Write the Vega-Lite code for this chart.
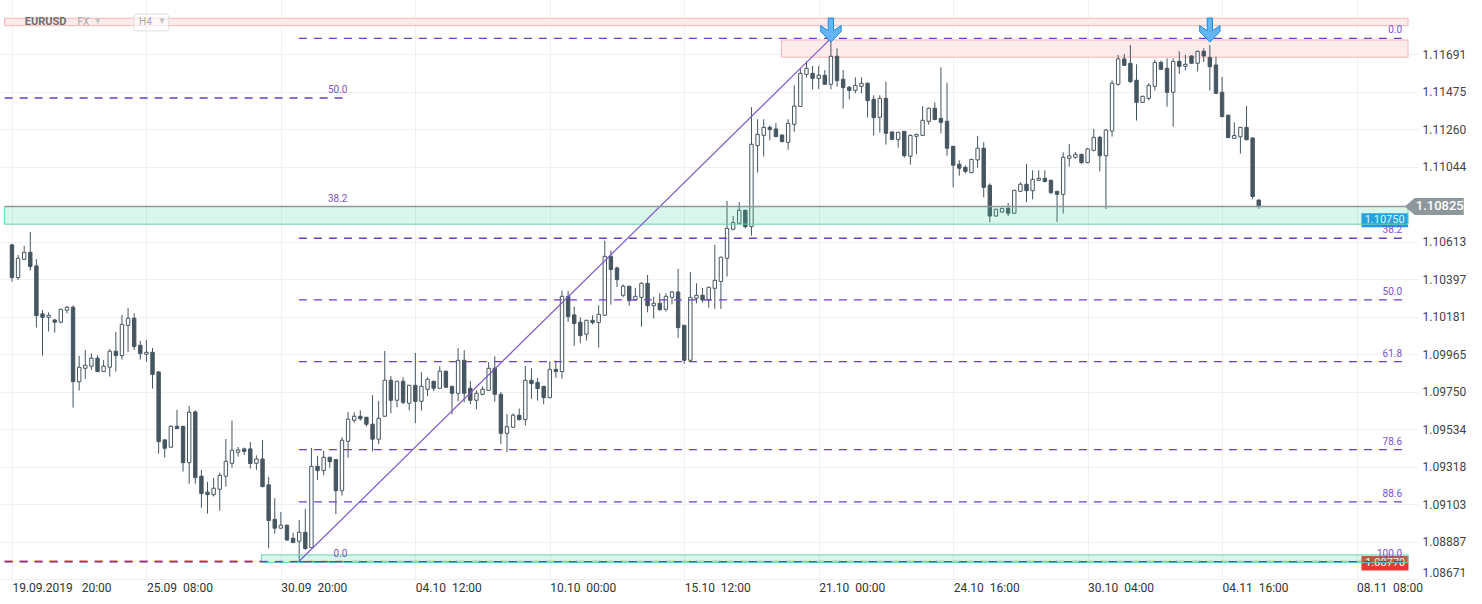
{
  "$schema": "https://vega.github.io/schema/vega-lite/v6.json",
  "width": 1418,
  "height": 581,
  "autosize": {"type": "none"},
  "padding": {"left": 0, "top": 0, "right": 64, "bottom": 23},
  "background": "#ffffff",
  "config": {"view": {"stroke": null}, "font": "Roboto"},
  "datasets": {
    "candles": [
      {"i":0,"o":1.10594,"h":1.10600,"l":1.10383,"c":1.10406},
      {"i":1,"o":1.10406,"h":1.10536,"l":1.10392,"c":1.10517},
      {"i":2,"o":1.10511,"h":1.10588,"l":1.10508,"c":1.10551},
      {"i":3,"o":1.10551,"h":1.10668,"l":1.10446,"c":1.10469},
      {"i":4,"o":1.10473,"h":1.10511,"l":1.10118,"c":1.10187},
      {"i":5,"o":1.10197,"h":1.10220,"l":1.09957,"c":1.10177},
      {"i":6,"o":1.10177,"h":1.10206,"l":1.10095,"c":1.10189},
      {"i":7,"o":1.10162,"h":1.10168,"l":1.10089,"c":1.10149},
      {"i":8,"o":1.10149,"h":1.10227,"l":1.10143,"c":1.10223},
      {"i":9,"o":1.10218,"h":1.10243,"l":1.10200,"c":1.10235},
      {"i":10,"o":1.10235,"h":1.10246,"l":1.09658,"c":1.09807},
      {"i":11,"o":1.09807,"h":1.09955,"l":1.09756,"c":1.09890},
      {"i":12,"o":1.09884,"h":1.09989,"l":1.09823,"c":1.09901},
      {"i":13,"o":1.09896,"h":1.09970,"l":1.09874,"c":1.09942},
      {"i":14,"o":1.09942,"h":1.09959,"l":1.09862,"c":1.09865},
      {"i":15,"o":1.09865,"h":1.09932,"l":1.09862,"c":1.09896},
      {"i":16,"o":1.09890,"h":1.09995,"l":1.09836,"c":1.09982},
      {"i":17,"o":1.09982,"h":1.10093,"l":1.09865,"c":1.09957},
      {"i":18,"o":1.09957,"h":1.10191,"l":1.09934,"c":1.10137},
      {"i":19,"o":1.10131,"h":1.10231,"l":1.09978,"c":1.10172},
      {"i":20,"o":1.10172,"h":1.10200,"l":1.09989,"c":1.10009},
      {"i":21,"o":1.10016,"h":1.10041,"l":1.09934,"c":1.09968},
      {"i":22,"o":1.09965,"h":1.10047,"l":1.09922,"c":1.09976},
      {"i":23,"o":1.09976,"h":1.10001,"l":1.09767,"c":1.09849},
      {"i":24,"o":1.09863,"h":1.09867,"l":1.09393,"c":1.09462},
      {"i":25,"o":1.09472,"h":1.09475,"l":1.09370,"c":1.09424},
      {"i":26,"o":1.09430,"h":1.09556,"l":1.09427,"c":1.09550},
      {"i":27,"o":1.09550,"h":1.09644,"l":1.09535,"c":1.09537},
      {"i":28,"o":1.09550,"h":1.09553,"l":1.09290,"c":1.09341},
      {"i":29,"o":1.09341,"h":1.09667,"l":1.09220,"c":1.09631},
      {"i":30,"o":1.09633,"h":1.09641,"l":1.09220,"c":1.09255},
      {"i":31,"o":1.09263,"h":1.09299,"l":1.09082,"c":1.09163},
      {"i":32,"o":1.09171,"h":1.09230,"l":1.09048,"c":1.09157},
      {"i":33,"o":1.09157,"h":1.09253,"l":1.09146,"c":1.09194},
      {"i":34,"o":1.09188,"h":1.09284,"l":1.09065,"c":1.09268},
      {"i":35,"o":1.09263,"h":1.09477,"l":1.09203,"c":1.09349},
      {"i":36,"o":1.09337,"h":1.09583,"l":1.09312,"c":1.09412},
      {"i":37,"o":1.09401,"h":1.09431,"l":1.09376,"c":1.09414},
      {"i":38,"o":1.09420,"h":1.09428,"l":1.09385,"c":1.09406},
      {"i":39,"o":1.09420,"h":1.09460,"l":1.09307,"c":1.09336},
      {"i":40,"o":1.09337,"h":1.09383,"l":1.09299,"c":1.09362},
      {"i":41,"o":1.09362,"h":1.09472,"l":1.09199,"c":1.09203},
      {"i":42,"o":1.09213,"h":1.09259,"l":1.08848,"c":1.09008},
      {"i":43,"o":1.09015,"h":1.09136,"l":1.08933,"c":1.08964},
      {"i":44,"o":1.08964,"h":1.09057,"l":1.08961,"c":1.08981},
      {"i":45,"o":1.08981,"h":1.08984,"l":1.08891,"c":1.08896},
      {"i":46,"o":1.08906,"h":1.08937,"l":1.08878,"c":1.08881},
      {"i":47,"o":1.08889,"h":1.09011,"l":1.08772,"c":1.08940},
      {"i":48,"o":1.08940,"h":1.09075,"l":1.08839,"c":1.08847},
      {"i":49,"o":1.08852,"h":1.09426,"l":1.08849,"c":1.09320},
      {"i":50,"o":1.09320,"h":1.09380,"l":1.09242,"c":1.09295},
      {"i":51,"o":1.09295,"h":1.09410,"l":1.09268,"c":1.09372},
      {"i":52,"o":1.09372,"h":1.09375,"l":1.09312,"c":1.09347},
      {"i":53,"o":1.09359,"h":1.09362,"l":1.09044,"c":1.09180},
      {"i":54,"o":1.09180,"h":1.09487,"l":1.09151,"c":1.09470},
      {"i":55,"o":1.09464,"h":1.09633,"l":1.09370,"c":1.09591},
      {"i":56,"o":1.09585,"h":1.09631,"l":1.09571,"c":1.09608},
      {"i":57,"o":1.09608,"h":1.09642,"l":1.09582,"c":1.09594},
      {"i":58,"o":1.09602,"h":1.09605,"l":1.09548,"c":1.09562},
      {"i":59,"o":1.09562,"h":1.09729,"l":1.09406,"c":1.09476},
      {"i":60,"o":1.09476,"h":1.09696,"l":1.09447,"c":1.09596},
      {"i":61,"o":1.09608,"h":1.09984,"l":1.09605,"c":1.09815},
      {"i":62,"o":1.09815,"h":1.09840,"l":1.09625,"c":1.09700},
      {"i":63,"o":1.09700,"h":1.09812,"l":1.09660,"c":1.09809},
      {"i":64,"o":1.09809,"h":1.09832,"l":1.09677,"c":1.09688},
      {"i":65,"o":1.09683,"h":1.09789,"l":1.09642,"c":1.09786},
      {"i":66,"o":1.09786,"h":1.09972,"l":1.09568,"c":1.09694},
      {"i":67,"o":1.09694,"h":1.09861,"l":1.09641,"c":1.09780},
      {"i":68,"o":1.09763,"h":1.09832,"l":1.09723,"c":1.09821},
      {"i":69,"o":1.09809,"h":1.09812,"l":1.09752,"c":1.09769},
      {"i":70,"o":1.09769,"h":1.09896,"l":1.09766,"c":1.09867},
      {"i":71,"o":1.09867,"h":1.09870,"l":1.09772,"c":1.09775},
      {"i":72,"o":1.09780,"h":1.09783,"l":1.09619,"c":1.09740},
      {"i":73,"o":1.09740,"h":1.10001,"l":1.09694,"c":1.09930},
      {"i":74,"o":1.09930,"h":1.09988,"l":1.09688,"c":1.09740},
      {"i":75,"o":1.09769,"h":1.09811,"l":1.09677,"c":1.09700},
      {"i":76,"o":1.09700,"h":1.09757,"l":1.09648,"c":1.09740},
      {"i":77,"o":1.09734,"h":1.09780,"l":1.09729,"c":1.09763},
      {"i":78,"o":1.09757,"h":1.09919,"l":1.09754,"c":1.09884},
      {"i":79,"o":1.09884,"h":1.09953,"l":1.09692,"c":1.09734},
      {"i":80,"o":1.09734,"h":1.09748,"l":1.09447,"c":1.09510},
      {"i":81,"o":1.09510,"h":1.09621,"l":1.09401,"c":1.09548},
      {"i":82,"o":1.09545,"h":1.09625,"l":1.09542,"c":1.09614},
      {"i":83,"o":1.09614,"h":1.09652,"l":1.09583,"c":1.09589},
      {"i":84,"o":1.09589,"h":1.09897,"l":1.09554,"c":1.09815},
      {"i":85,"o":1.09815,"h":1.09884,"l":1.09708,"c":1.09796},
      {"i":86,"o":1.09803,"h":1.09828,"l":1.09698,"c":1.09767},
      {"i":87,"o":1.09780,"h":1.09783,"l":1.09677,"c":1.09715},
      {"i":88,"o":1.09715,"h":1.09924,"l":1.09712,"c":1.09878},
      {"i":89,"o":1.09878,"h":1.09928,"l":1.09830,"c":1.09865},
      {"i":90,"o":1.09865,"h":1.10331,"l":1.09824,"c":1.10298},
      {"i":91,"o":1.10298,"h":1.10329,"l":1.10151,"c":1.10181},
      {"i":92,"o":1.10191,"h":1.10239,"l":1.10014,"c":1.10141},
      {"i":93,"o":1.10149,"h":1.10177,"l":1.10028,"c":1.10072},
      {"i":94,"o":1.10080,"h":1.10163,"l":1.10043,"c":1.10160},
      {"i":95,"o":1.10160,"h":1.10189,"l":1.10137,"c":1.10147},
      {"i":96,"o":1.10147,"h":1.10246,"l":1.10003,"c":1.10195},
      {"i":97,"o":1.10189,"h":1.10618,"l":1.10186,"c":1.10528},
      {"i":98,"o":1.10528,"h":1.10561,"l":1.10250,"c":1.10452},
      {"i":99,"o":1.10461,"h":1.10469,"l":1.10352,"c":1.10394},
      {"i":100,"o":1.10304,"h":1.10367,"l":1.10294,"c":1.10356},
      {"i":101,"o":1.10356,"h":1.10359,"l":1.10244,"c":1.10273},
      {"i":102,"o":1.10277,"h":1.10346,"l":1.10271,"c":1.10298},
      {"i":103,"o":1.10292,"h":1.10379,"l":1.10124,"c":1.10373},
      {"i":104,"o":1.10373,"h":1.10421,"l":1.10206,"c":1.10244},
      {"i":105,"o":1.10244,"h":1.10296,"l":1.10170,"c":1.10258},
      {"i":106,"o":1.10258,"h":1.10315,"l":1.10215,"c":1.10221},
      {"i":107,"o":1.10223,"h":1.10315,"l":1.10210,"c":1.10298},
      {"i":108,"o":1.10292,"h":1.10329,"l":1.10252,"c":1.10323},
      {"i":109,"o":1.10323,"h":1.10457,"l":1.10060,"c":1.10118},
      {"i":110,"o":1.10131,"h":1.10134,"l":1.09911,"c":1.09930},
      {"i":111,"o":1.09930,"h":1.10438,"l":1.09927,"c":1.10292},
      {"i":112,"o":1.10287,"h":1.10373,"l":1.10258,"c":1.10304},
      {"i":113,"o":1.10304,"h":1.10346,"l":1.10262,"c":1.10277},
      {"i":114,"o":1.10277,"h":1.10353,"l":1.10233,"c":1.10350},
      {"i":115,"o":1.10344,"h":1.10594,"l":1.10225,"c":1.10390},
      {"i":116,"o":1.10384,"h":1.10526,"l":1.10225,"c":1.10523},
      {"i":117,"o":1.10517,"h":1.10847,"l":1.10411,"c":1.10689},
      {"i":118,"o":1.10684,"h":1.10760,"l":1.10678,"c":1.10722},
      {"i":119,"o":1.10718,"h":1.10839,"l":1.10711,"c":1.10793},
      {"i":120,"o":1.10793,"h":1.10796,"l":1.10689,"c":1.10699},
      {"i":121,"o":1.10699,"h":1.11386,"l":1.10647,"c":1.11173},
      {"i":122,"o":1.11165,"h":1.11317,"l":1.11010,"c":1.11230},
      {"i":123,"o":1.11224,"h":1.11317,"l":1.11102,"c":1.11270},
      {"i":124,"o":1.11270,"h":1.11280,"l":1.11196,"c":1.11257},
      {"i":125,"o":1.11261,"h":1.11295,"l":1.11214,"c":1.11217},
      {"i":126,"o":1.11226,"h":1.11229,"l":1.11185,"c":1.11188},
      {"i":127,"o":1.11184,"h":1.11317,"l":1.11142,"c":1.11293},
      {"i":128,"o":1.11288,"h":1.11512,"l":1.11245,"c":1.11393},
      {"i":129,"o":1.11391,"h":1.11610,"l":1.11388,"c":1.11581},
      {"i":130,"o":1.11575,"h":1.11650,"l":1.11556,"c":1.11610},
      {"i":131,"o":1.11581,"h":1.11623,"l":1.11489,"c":1.11552},
      {"i":132,"o":1.11552,"h":1.11623,"l":1.11491,"c":1.11570},
      {"i":133,"o":1.11570,"h":1.11600,"l":1.11515,"c":1.11518},
      {"i":134,"o":1.11518,"h":1.11782,"l":1.11489,"c":1.11679},
      {"i":135,"o":1.11679,"h":1.11725,"l":1.11504,"c":1.11539},
      {"i":136,"o":1.11547,"h":1.11600,"l":1.11378,"c":1.11499},
      {"i":137,"o":1.11501,"h":1.11508,"l":1.11432,"c":1.11483},
      {"i":138,"o":1.11483,"h":1.11558,"l":1.11466,"c":1.11512},
      {"i":139,"o":1.11506,"h":1.11558,"l":1.11466,"c":1.11524},
      {"i":140,"o":1.11524,"h":1.11527,"l":1.11328,"c":1.11424},
      {"i":141,"o":1.11432,"h":1.11455,"l":1.11223,"c":1.11326},
      {"i":142,"o":1.11328,"h":1.11455,"l":1.11240,"c":1.11437},
      {"i":143,"o":1.11437,"h":1.11533,"l":1.11171,"c":1.11236},
      {"i":144,"o":1.11244,"h":1.11247,"l":1.11198,"c":1.11201},
      {"i":145,"o":1.11201,"h":1.11245,"l":1.11153,"c":1.11242},
      {"i":146,"o":1.11247,"h":1.11250,"l":1.11096,"c":1.11107},
      {"i":147,"o":1.11104,"h":1.11230,"l":1.11056,"c":1.11224},
      {"i":148,"o":1.11219,"h":1.11233,"l":1.11115,"c":1.11230},
      {"i":149,"o":1.11224,"h":1.11393,"l":1.11221,"c":1.11311},
      {"i":150,"o":1.11305,"h":1.11383,"l":1.11285,"c":1.11380},
      {"i":151,"o":1.11380,"h":1.11414,"l":1.11311,"c":1.11316},
      {"i":152,"o":1.11322,"h":1.11616,"l":1.11236,"c":1.11299},
      {"i":153,"o":1.11305,"h":1.11527,"l":1.11107,"c":1.11150},
      {"i":154,"o":1.11161,"h":1.11164,"l":1.10925,"c":1.11052},
      {"i":155,"o":1.11058,"h":1.11081,"l":1.10992,"c":1.11035},
      {"i":156,"o":1.11040,"h":1.11052,"l":1.11006,"c":1.11017},
      {"i":157,"o":1.11010,"h":1.11089,"l":1.11006,"c":1.11086},
      {"i":158,"o":1.11083,"h":1.11221,"l":1.11038,"c":1.11150},
      {"i":159,"o":1.11150,"h":1.11184,"l":1.10868,"c":1.10925},
      {"i":160,"o":1.10937,"h":1.10948,"l":1.10724,"c":1.10760},
      {"i":161,"o":1.10760,"h":1.10802,"l":1.10757,"c":1.10799},
      {"i":162,"o":1.10783,"h":1.10807,"l":1.10780,"c":1.10804},
      {"i":163,"o":1.10804,"h":1.10835,"l":1.10760,"c":1.10776},
      {"i":164,"o":1.10776,"h":1.10911,"l":1.10773,"c":1.10908},
      {"i":165,"o":1.10902,"h":1.10954,"l":1.10899,"c":1.10943},
      {"i":166,"o":1.10943,"h":1.11059,"l":1.10839,"c":1.10906},
      {"i":167,"o":1.10906,"h":1.11023,"l":1.10856,"c":1.10971},
      {"i":168,"o":1.10966,"h":1.11023,"l":1.10963,"c":1.10977},
      {"i":169,"o":1.10977,"h":1.11023,"l":1.10954,"c":1.10958},
      {"i":170,"o":1.10966,"h":1.10969,"l":1.10885,"c":1.10895},
      {"i":171,"o":1.10902,"h":1.10905,"l":1.10726,"c":1.10885},
      {"i":172,"o":1.10885,"h":1.11127,"l":1.10774,"c":1.11098},
      {"i":173,"o":1.11092,"h":1.11175,"l":1.11044,"c":1.11106},
      {"i":174,"o":1.11098,"h":1.11129,"l":1.11090,"c":1.11115},
      {"i":175,"o":1.11115,"h":1.11118,"l":1.11061,"c":1.11067},
      {"i":176,"o":1.11067,"h":1.11152,"l":1.11064,"c":1.11146},
      {"i":177,"o":1.11138,"h":1.11261,"l":1.11132,"c":1.11213},
      {"i":178,"o":1.11213,"h":1.11221,"l":1.11017,"c":1.11107},
      {"i":179,"o":1.11107,"h":1.11261,"l":1.10801,"c":1.11255},
      {"i":180,"o":1.11249,"h":1.11541,"l":1.11217,"c":1.11524},
      {"i":181,"o":1.11518,"h":1.11687,"l":1.11510,"c":1.11664},
      {"i":182,"o":1.11664,"h":1.11692,"l":1.11624,"c":1.11627},
      {"i":183,"o":1.11639,"h":1.11744,"l":1.11527,"c":1.11533},
      {"i":184,"o":1.11541,"h":1.11633,"l":1.11309,"c":1.11414},
      {"i":185,"o":1.11414,"h":1.11452,"l":1.11411,"c":1.11449},
      {"i":186,"o":1.11437,"h":1.11524,"l":1.11426,"c":1.11512},
      {"i":187,"o":1.11506,"h":1.11658,"l":1.11483,"c":1.11644},
      {"i":188,"o":1.11644,"h":1.11654,"l":1.11601,"c":1.11604},
      {"i":189,"o":1.11610,"h":1.11667,"l":1.11389,"c":1.11472},
      {"i":190,"o":1.11472,"h":1.11667,"l":1.11274,"c":1.11650},
      {"i":191,"o":1.11650,"h":1.11708,"l":1.11578,"c":1.11621},
      {"i":192,"o":1.11621,"h":1.11687,"l":1.11598,"c":1.11633},
      {"i":193,"o":1.11681,"h":1.11684,"l":1.11636,"c":1.11639},
      {"i":194,"o":1.11639,"h":1.11711,"l":1.11591,"c":1.11708},
      {"i":195,"o":1.11708,"h":1.11725,"l":1.11646,"c":1.11681},
      {"i":196,"o":1.11673,"h":1.11744,"l":1.11481,"c":1.11619},
      {"i":197,"o":1.11629,"h":1.11677,"l":1.11463,"c":1.11466},
      {"i":198,"o":1.11472,"h":1.11560,"l":1.11328,"c":1.11332},
      {"i":199,"o":1.11340,"h":1.11343,"l":1.11208,"c":1.11211},
      {"i":200,"o":1.11207,"h":1.11299,"l":1.11204,"c":1.11223},
      {"i":201,"o":1.11216,"h":1.11273,"l":1.11119,"c":1.11270},
      {"i":202,"o":1.11270,"h":1.11393,"l":1.11196,"c":1.11199},
      {"i":203,"o":1.11209,"h":1.11212,"l":1.10856,"c":1.10872},
      {"i":204,"o":1.10852,"h":1.10855,"l":1.10801,"c":1.10815}
    ],
    "zonesPink": [
      {"x1":-1.2,"x2":228.43,"y1":1.11898,"y2":1.11855},
      {"x1":125.9,"x2":228.43,"y1":1.11773,"y2":1.11674}
    ],
    "zonesGreen": [
      {"x1":-1.2,"x2":228.43,"y1":1.10815,"y2":1.10713},
      {"x1":40.8,"x2":228.43,"y1":1.0881,"y2":1.08766}
    ],
    "boxes": [
      {"kind":"entry","x1":220.8,"x2":228.43,"y1":1.10776,"y2":1.10695},
      {"kind":"stop","x1":220.8,"x2":228.5,"y1":1.08804,"y2":1.0872}
    ],
    "boxText": [
      {"x":224.6,"y":1.10737,"t":"1.10750"},
      {"x":224.7,"y":1.08761,"t":"1.08770"}
    ],
    "redLine": [{"x1":-1.2,"x2":40.8,"y":1.08772}],
    "redLineFaded": [{"x1":40.8,"x2":228.43,"y":1.08772}],
    "fibLines": [
      {"x1":46.95,"x2":228.43,"y":1.11782},
      {"x1":46.95,"x2":228.43,"y":1.10632},
      {"x1":46.95,"x2":228.43,"y":1.10277},
      {"x1":46.95,"x2":228.43,"y":1.09922},
      {"x1":46.95,"x2":228.43,"y":1.09416},
      {"x1":46.95,"x2":228.43,"y":1.09115},
      {"x1":46.95,"x2":228.43,"y":1.08772},
      {"x1":-1.2,"x2":54.9,"y":1.11439},
      {"x1":-1.2,"x2":54.9,"y":1.08772}
    ],
    "fibLabels": [
      {"x":227.46,"y":1.11782,"t":"0.0"},
      {"x":227.46,"y":1.10632,"t":"38.2"},
      {"x":227.46,"y":1.10277,"t":"50.0"},
      {"x":227.46,"y":1.09922,"t":"61.8"},
      {"x":227.46,"y":1.09416,"t":"78.6"},
      {"x":227.46,"y":1.09115,"t":"88.6"},
      {"x":227.46,"y":1.08772,"t":"100.0"},
      {"x":54.9,"y":1.11439,"t":"50.0"},
      {"x":54.9,"y":1.1081,"t":"38.2"},
      {"x":54.9,"y":1.08772,"t":"0.0"}
    ],
    "trend": [{"x1":46.95,"y1":1.08772,"x2":134,"y2":1.11782}],
    "price": [{"x1":-1.2,"x2":228.43,"y":1.10815}],
    "tag": [{"x":232.8,"y":1.10815}],
    "tagText": [{"x":229.7,"y":1.10815,"t":"1.10825"}],
    "arrows": [{"x":134,"y":1.1183},{"x":196,"y":1.1183}],
    "uiMain": [{"x":2.11,"y":1.11874,"t":"EURUSD"}],
    "uiSub": [{"x":10.72,"y":1.11874,"t":"FX"},{"x":20.8,"y":1.11874,"t":"H4"}],
    "uiTri": [{"x":13.6,"y":1.11880,"t":"▼"},{"x":24.1,"y":1.11880,"t":"▼"}],
    "uiBox": [{"x1":19.98,"x2":25.67,"y1":1.11922,"y2":1.11825}]
  },
  "layer": [
    {
      "data": {"name": "zonesPink"},
      "mark": {"type": "rect", "fill": "#fdebeb", "stroke": "#f4b6b6", "strokeWidth": 1},
      "encoding": {
        "x": {"field": "x1", "type": "quantitative",
          "scale": {"domain": [-1.137, 229.24], "nice": false, "zero": false},
          "axis": {"title": null, "values": [0,22,44,66,88,110,132,154,176,198,220],
            "labelExpr": "['19.09.2019\u00a0\u00a0 20:00','25.09\u00a0 08:00','30.09\u00a0 20:00','04.10\u00a0 12:00','10.10\u00a0 00:00','15.10\u00a0 12:00','21.10\u00a0 00:00','24.10\u00a0 16:00','30.10\u00a0 04:00','04.11\u00a0 16:00','08.11\u00a0 08:00'][round(datum.value/22)]",
            "labelAlign": "left", "labelBaseline": "middle", "labelPadding": 6, "ticks": false,
            "domain": false, "grid": true, "gridColor": "#f0f0f0", "gridWidth": 1,
            "labelFont": "Roboto", "labelFontSize": 12, "labelColor": "#333333",
            "labelFlush": false, "labelOverlap": false}},
        "x2": {"field": "x2"},
        "y": {"field": "y1", "type": "quantitative",
          "scale": {"domain": [1.0866, 1.12003], "nice": false, "zero": false},
          "axis": {"title": null, "orient": "right",
            "values": [1.11691,1.11475,1.1126,1.11044,1.10613,1.10397,1.10181,1.09965,1.0975,1.09534,1.09318,1.09103,1.08887,1.08671],
            "format": ".5f", "labelAlign": "left",
            "labelBaseline": {"condition": {"test": "datum.value < 1.0868", "value": "bottom"}, "value": "middle"},
            "labelPadding": 4, "ticks": false, "domain": false, "grid": true, "gridColor": "#f0f0f0",
            "labelFont": "Roboto", "labelFontSize": 12, "labelColor": "#444444",
            "labelOverlap": false, "labelFlush": false}},
        "y2": {"field": "y2"}
      }
    },
    {
      "data": {"name": "candles"},
      "mark": {"type": "rule", "color": "#465660", "strokeWidth": 1},
      "encoding": {
        "x": {"field": "i", "type": "quantitative", "scale": {"domain": [-1.137, 229.24], "nice": false, "zero": false}},
        "y": {"field": "l", "type": "quantitative", "scale": {"domain": [1.0866, 1.12003], "nice": false, "zero": false}},
        "y2": {"field": "h"}
      }
    },
    {
      "data": {"name": "candles"},
      "mark": {"type": "bar", "width": 3.4, "stroke": "#465660", "strokeWidth": 1},
      "encoding": {
        "x": {"field": "i", "type": "quantitative", "scale": {"domain": [-1.137, 229.24], "nice": false, "zero": false}},
        "y": {"field": "o", "type": "quantitative", "scale": {"domain": [1.0866, 1.12003], "nice": false, "zero": false}},
        "y2": {"field": "c"},
        "fill": {"condition": {"test": "datum.c >= datum.o", "value": "#ffffff"}, "value": "#465660"}
      }
    },
    {
      "data": {"name": "boxes"},
      "mark": {"type": "rect"},
      "encoding": {
        "x": {"field": "x1", "type": "quantitative", "scale": {"domain": [-1.137, 229.24], "nice": false, "zero": false}},
        "x2": {"field": "x2"},
        "y": {"field": "y1", "type": "quantitative", "scale": {"domain": [1.0866, 1.12003], "nice": false, "zero": false}},
        "y2": {"field": "y2"},
        "color": {"field": "kind", "type": "nominal", "scale": {"domain": ["entry", "stop"], "range": ["#2196f3", "#e53935"]}, "legend": null}
      }
    },
    {
      "data": {"name": "boxText"},
      "mark": {"type": "text", "font": "Roboto", "fontSize": 11, "color": "#ffffff", "align": "center", "baseline": "middle"},
      "encoding": {
        "x": {"field": "x", "type": "quantitative", "scale": {"domain": [-1.137, 229.24], "nice": false, "zero": false}},
        "y": {"field": "y", "type": "quantitative", "scale": {"domain": [1.0866, 1.12003], "nice": false, "zero": false}},
        "text": {"field": "t"}
      }
    },
    {
      "data": {"name": "redLine"},
      "mark": {"type": "rule", "color": "#e53935", "strokeWidth": 2, "strokeDash": [8, 7]},
      "encoding": {
        "x": {"field": "x1", "type": "quantitative", "scale": {"domain": [-1.137, 229.24], "nice": false, "zero": false}},
        "x2": {"field": "x2"},
        "y": {"field": "y", "type": "quantitative", "scale": {"domain": [1.0866, 1.12003], "nice": false, "zero": false}}
      }
    },
    {
      "data": {"name": "redLineFaded"},
      "mark": {"type": "rule", "color": "#e53935", "strokeWidth": 2, "strokeDash": [8, 7], "opacity": 0.35},
      "encoding": {
        "x": {"field": "x1", "type": "quantitative", "scale": {"domain": [-1.137, 229.24], "nice": false, "zero": false}},
        "x2": {"field": "x2"},
        "y": {"field": "y", "type": "quantitative", "scale": {"domain": [1.0866, 1.12003], "nice": false, "zero": false}}
      }
    },
    {
      "data": {"name": "zonesGreen"},
      "mark": {"type": "rect", "fill": "#3dd39a", "fillOpacity": 0.2, "stroke": "#63d6aa", "strokeWidth": 1},
      "encoding": {
        "x": {"field": "x1", "type": "quantitative", "scale": {"domain": [-1.137, 229.24], "nice": false, "zero": false}},
        "x2": {"field": "x2"},
        "y": {"field": "y1", "type": "quantitative", "scale": {"domain": [1.0866, 1.12003], "nice": false, "zero": false}},
        "y2": {"field": "y2"}
      }
    },
    {
      "data": {"name": "fibLines"},
      "mark": {"type": "rule", "color": "#6a3fc8", "strokeWidth": 1.3, "strokeDash": [8, 7]},
      "encoding": {
        "x": {"field": "x1", "type": "quantitative", "scale": {"domain": [-1.137, 229.24], "nice": false, "zero": false}},
        "x2": {"field": "x2"},
        "y": {"field": "y", "type": "quantitative", "scale": {"domain": [1.0866, 1.12003], "nice": false, "zero": false}}
      }
    },
    {
      "data": {"name": "trend"},
      "mark": {"type": "rule", "color": "#7e57d0", "strokeWidth": 1.2},
      "encoding": {
        "x": {"field": "x1", "type": "quantitative", "scale": {"domain": [-1.137, 229.24], "nice": false, "zero": false}},
        "x2": {"field": "x2"},
        "y": {"field": "y1", "type": "quantitative", "scale": {"domain": [1.0866, 1.12003], "nice": false, "zero": false}},
        "y2": {"field": "y2"}
      }
    },
    {
      "data": {"name": "price"},
      "mark": {"type": "rule", "color": "#8d979c", "strokeWidth": 1.5},
      "encoding": {
        "x": {"field": "x1", "type": "quantitative", "scale": {"domain": [-1.137, 229.24], "nice": false, "zero": false}},
        "x2": {"field": "x2"},
        "y": {"field": "y", "type": "quantitative", "scale": {"domain": [1.0866, 1.12003], "nice": false, "zero": false}}
      }
    },
    {
      "data": {"name": "tag"},
      "mark": {"type": "point", "filled": true, "fill": "#8d979c", "opacity": 1, "strokeWidth": 0,
        "shape": "M -1 0 L -0.667 -0.283 L 0.967 -0.283 L 0.967 0.283 L -0.667 0.283 Z", "size": 3600},
      "encoding": {
        "x": {"field": "x", "type": "quantitative", "scale": {"domain": [-1.137, 229.24], "nice": false, "zero": false}},
        "y": {"field": "y", "type": "quantitative", "scale": {"domain": [1.0866, 1.12003], "nice": false, "zero": false}}
      }
    },
    {
      "data": {"name": "tagText"},
      "mark": {"type": "text", "font": "Roboto", "fontSize": 13, "fontWeight": 500, "color": "#ffffff", "align": "left", "baseline": "middle"},
      "encoding": {
        "x": {"field": "x", "type": "quantitative", "scale": {"domain": [-1.137, 229.24], "nice": false, "zero": false}},
        "y": {"field": "y", "type": "quantitative", "scale": {"domain": [1.0866, 1.12003], "nice": false, "zero": false}},
        "text": {"field": "t"}
      }
    },
    {
      "data": {"name": "fibLabels"},
      "mark": {"type": "text", "font": "Roboto", "fontSize": 10, "color": "#7b52c9", "align": "right", "baseline": "bottom", "dy": -3},
      "encoding": {
        "x": {"field": "x", "type": "quantitative", "scale": {"domain": [-1.137, 229.24], "nice": false, "zero": false}},
        "y": {"field": "y", "type": "quantitative", "scale": {"domain": [1.0866, 1.12003], "nice": false, "zero": false}},
        "text": {"field": "t"}
      }
    },
    {
      "data": {"name": "arrows"},
      "mark": {"type": "point", "filled": true, "fill": "#64b5f6", "stroke": "#1e88e5", "strokeWidth": 1, "opacity": 1,
        "shape": "M -0.22 -1 L 0.22 -1 L 0.22 0.05 L 0.85 -0.38 L 0.85 0.12 L 0 1 L -0.85 0.12 L -0.85 -0.38 L -0.22 0.05 Z", "size": 576},
      "encoding": {
        "x": {"field": "x", "type": "quantitative", "scale": {"domain": [-1.137, 229.24], "nice": false, "zero": false}},
        "y": {"field": "y", "type": "quantitative", "scale": {"domain": [1.0866, 1.12003], "nice": false, "zero": false}}
      }
    },
    {
      "data": {"name": "uiBox"},
      "mark": {"type": "rect", "fill": "#ffffff", "fillOpacity": 0.6, "stroke": "#dddddd", "strokeWidth": 1, "cornerRadius": 3},
      "encoding": {
        "x": {"field": "x1", "type": "quantitative", "scale": {"domain": [-1.137, 229.24], "nice": false, "zero": false}},
        "x2": {"field": "x2"},
        "y": {"field": "y1", "type": "quantitative", "scale": {"domain": [1.0866, 1.12003], "nice": false, "zero": false}},
        "y2": {"field": "y2"}
      }
    },
    {
      "data": {"name": "uiMain"},
      "mark": {"type": "text", "font": "Roboto", "fontSize": 11, "fontWeight": "bold", "color": "#6e6e6e", "align": "left", "baseline": "middle"},
      "encoding": {
        "x": {"field": "x", "type": "quantitative", "scale": {"domain": [-1.137, 229.24], "nice": false, "zero": false}},
        "y": {"field": "y", "type": "quantitative", "scale": {"domain": [1.0866, 1.12003], "nice": false, "zero": false}},
        "text": {"field": "t"}
      }
    },
    {
      "data": {"name": "uiSub"},
      "mark": {"type": "text", "font": "Roboto", "fontSize": 10, "color": "#a8a8a8", "align": "left", "baseline": "middle"},
      "encoding": {
        "x": {"field": "x", "type": "quantitative", "scale": {"domain": [-1.137, 229.24], "nice": false, "zero": false}},
        "y": {"field": "y", "type": "quantitative", "scale": {"domain": [1.0866, 1.12003], "nice": false, "zero": false}},
        "text": {"field": "t"}
      }
    },
    {
      "data": {"name": "uiTri"},
      "mark": {"type": "text", "font": "DejaVu Sans", "fontSize": 7, "color": "#c4c4c4", "align": "left", "baseline": "middle"},
      "encoding": {
        "x": {"field": "x", "type": "quantitative", "scale": {"domain": [-1.137, 229.24], "nice": false, "zero": false}},
        "y": {"field": "y", "type": "quantitative", "scale": {"domain": [1.0866, 1.12003], "nice": false, "zero": false}},
        "text": {"field": "t"}
      }
    }
  ]
}
